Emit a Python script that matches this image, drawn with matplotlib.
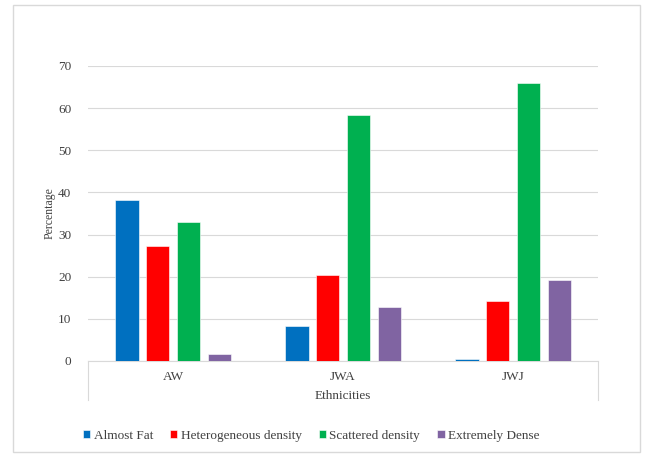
import numpy as np
import matplotlib
matplotlib.use("Agg")
import matplotlib.pyplot as plt
from matplotlib.patches import Rectangle
from matplotlib.lines import Line2D

categories = ["AW", "JWA", "JWJ"]
series_names = ["Almost Fat", "Heterogeneous density", "Scattered density", "Extremely Dense"]
almost_fat = [38.2, 8.3, 0.5]
heterogeneous = [27.2, 20.5, 14.3]
scattered = [33.0, 58.3, 66.0]
extremely_dense = [1.7, 12.9, 19.3]
colors = ["#0070C0", "#FF0000", "#00B050", "#8064A2"]

plt.rcParams["font.family"] = ["Liberation Serif", "DejaVu Serif"]

fig = plt.figure(figsize=(6.51, 4.57), dpi=100)
ax = fig.add_axes([0.1352, 0.2101, 0.7834, 0.6455])

x = np.arange(len(categories))
width = 0.137
step = 0.181
all_series = [almost_fat, heterogeneous, scattered, extremely_dense]
for i, (vals, name, c) in enumerate(zip(all_series, series_names, colors)):
    ax.bar(x + (i - 1.5) * step, vals, width, color=c, label=name,
           edgecolor="white", linewidth=0.4, zorder=3)

ax.set_xlim(-0.5, 2.5)
ax.set_ylim(0, 70)
ax.set_yticks(range(0, 71, 10))
ax.set_xticks(x)
ax.set_xticklabels(categories)
ax.grid(axis="y", color="#d9d9d9", linewidth=0.8, zorder=0)
for s in ["top", "right", "left"]:
    ax.spines[s].set_visible(False)
ax.spines["bottom"].set_color("#d9d9d9")
ax.tick_params(axis="both", length=0, labelsize=9.5, labelcolor="#404040")
ax.tick_params(axis="y", pad=12)
ax.tick_params(axis="x", pad=7)

# outer category boundary lines
for xx in [0, 1]:
    ax.add_line(Line2D([xx, xx], [0, -0.132], transform=ax.transAxes,
                       color="#d9d9d9", linewidth=0.8, clip_on=False))

ax.set_xlabel("Ethnicities", fontsize=9.5, color="#404040", labelpad=5)
ax.set_ylabel("Percentage", fontsize=8.5, color="#404040", labelpad=2)

fig.legend(loc="center", bbox_to_anchor=(0.478, 0.046), ncol=4, frameon=False,
           fontsize=9.5, handlelength=0.55, handleheight=0.55, handletextpad=0.25,
           columnspacing=1.3, labelcolor="#404040")

# light border around the chart
fig.add_artist(Rectangle((13 / 651, 5 / 457), 627 / 651, 447 / 457,
                         transform=fig.transFigure, fill=False,
                         edgecolor="#d9d9d9", linewidth=1.0))

fig.savefig("out.png", dpi=100)
